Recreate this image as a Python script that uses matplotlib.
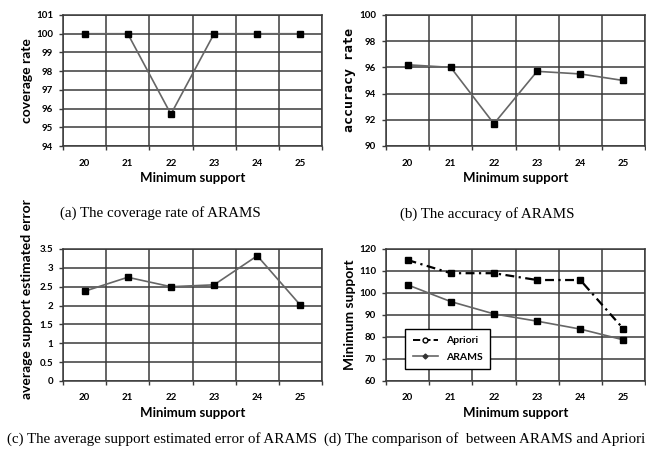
import numpy as np
import matplotlib.pyplot as plt
from matplotlib.lines import Line2D

# data
supports = ['20', '21', '22', '23', '24', '25']
coverage = [100, 100, 95.7, 100, 100, 100]
accuracy = [96.2, 96.0, 91.7, 95.7, 95.5, 95.0]
avg_error = [2.38, 2.75, 2.50, 2.55, 3.32, 2.01]
apriori = [115.0, 109.0, 109.0, 105.9, 105.9, 83.7]
arams = [103.7, 96.1, 90.5, 87.2, 83.6, 78.7]

W, H = 646, 454
SANS = ['Lato', 'DejaVu Sans']
SERIF = ['Liberation Serif', 'DejaVu Serif']
GRID = '#3a3a3a'

fig = plt.figure(figsize=(W / 100, H / 100), dpi=100)


def px_axes(x0, y0, x1, y1):
    return fig.add_axes([x0 / W, 1 - y1 / H, (x1 - x0) / W, (y1 - y0) / H])


def style(ax, ylim, ystep, ylabel, yfont=SANS, ysize=10):
    x = np.arange(len(supports))
    ax.set_xlim(-0.5, len(supports) - 0.5)
    ax.set_ylim(*ylim)
    ax.set_xticks(x)
    ax.set_xticklabels(supports)
    ax.set_xticks(np.arange(-0.5, len(supports)), minor=True)
    ax.set_yticks(np.arange(ylim[0], ylim[1] + ystep / 2, ystep))
    ax.tick_params(axis='x', which='major', length=0, pad=9, labelsize=7)
    ax.tick_params(axis='x', which='minor', length=3, color=GRID, width=1)
    ax.tick_params(axis='y', length=3, color=GRID, width=1, pad=4, labelsize=7)
    for lab in ax.get_xticklabels() + ax.get_yticklabels():
        lab.set_family(SANS)
        lab.set_fontweight('bold')
    ax.grid(True, which='minor', axis='x', color=GRID, lw=1.1)
    ax.grid(True, which='major', axis='y', color=GRID, lw=1.1)
    ax.set_axisbelow(True)
    for s in ax.spines.values():
        s.set_color(GRID)
        s.set_linewidth(1.1)
    ax.set_xlabel('Minimum support', family=SANS, fontweight='bold',
                  fontsize=9.5, labelpad=3)
    ax.set_ylabel(ylabel, family=yfont, fontweight='bold', fontsize=ysize,
                  labelpad=2)


def series(ax, vals):
    ax.plot(np.arange(len(vals)), vals, color='#666666', lw=1.2,
            marker='s', markersize=4.5, markerfacecolor='black',
            markeredgecolor='black', zorder=3)


# (a)
ax_a = px_axes(63, 15, 322, 146)
style(ax_a, (94, 101), 1, 'coverage rate')
series(ax_a, coverage)

# (b)
ax_b = px_axes(386, 15, 645, 146)
style(ax_b, (90, 100), 2, 'accuracy rate',
      yfont=['DejaVu Sans Mono'], ysize=9.5)
series(ax_b, accuracy)

# (c)
ax_c = px_axes(63, 249, 322, 381)
style(ax_c, (0, 3.5), 0.5, 'average support estimated error')
ax_c.set_yticklabels(['0', '0.5', '1', '1.5', '2', '2.5', '3', '3.5'])
ax_c.yaxis.set_label_coords(-0.115, 0.62)
series(ax_c, avg_error)

# (d)
ax_d = px_axes(386, 249, 645, 381)
style(ax_d, (60, 120), 10, 'Minimum support')
xd = np.arange(len(supports))
ax_d.plot(xd, apriori, color='black', lw=1.6, ls=(0, (4, 2, 1, 2)),
          marker='s', markersize=4.5, markerfacecolor='black',
          markeredgecolor='black', zorder=3)
ax_d.plot(xd, arams, color='#666666', lw=1.2,
          marker='s', markersize=4.5, markerfacecolor='black',
          markeredgecolor='black', zorder=3)
handles = [
    Line2D([], [], color='black', ls='--', lw=1.4, marker='o', markersize=3.5,
           markerfacecolor='white', markeredgecolor='black'),
    Line2D([], [], color='#666666', lw=1.2, marker='D', markersize=2.5,
           markerfacecolor='#333333', markeredgecolor='#333333'),
]
leg = ax_d.legend(handles, ['Apriori', 'ARAMS'], loc='lower left',
                  bbox_to_anchor=(0.055, 0.05), fancybox=False,
                  edgecolor='black', framealpha=1, handlelength=2.4,
                  borderpad=0.7, labelspacing=0.7,
                  prop={'family': SANS, 'weight': 'bold', 'size': 7.5})
leg.get_frame().set_linewidth(1.0)

# captions
fig.text(160 / W, 1 - 213 / H, '(a) The coverage rate of ARAMS',
         family=SERIF, fontsize=10.8, ha='center', va='center')
fig.text(487 / W, 1 - 214 / H, '(b) The accuracy of ARAMS',
         family=SERIF, fontsize=10.8, ha='center', va='center')
fig.text(162 / W, 1 - 439 / H, '(c) The average support estimated error of ARAMS',
         family=SERIF, fontsize=10.8, ha='center', va='center')
fig.text(485 / W, 1 - 439 / H, '(d) The comparison of  between ARAMS and Apriori',
         family=SERIF, fontsize=10.8, ha='center', va='center')

fig.savefig('out.png', dpi=100)
